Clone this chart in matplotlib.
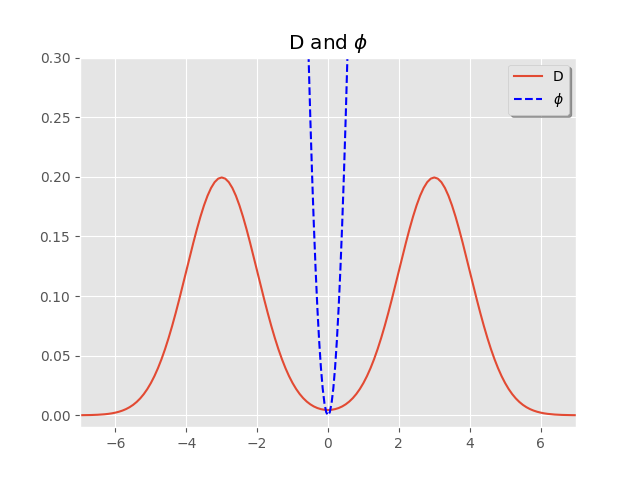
import matplotlib
matplotlib.use("Agg")
import matplotlib.pyplot as plt
import numpy as np

plt.style.use("ggplot")

# D curve at x = 0.0, 0.1, ..., 7.0 (mirror image for x < 0)
d_half = [0.00443, 0.00461, 0.00515, 0.00607, 0.00741, 0.00920, 0.01150, 0.01437,
          0.01788, 0.02209, 0.02706, 0.03285, 0.03950, 0.04705, 0.05547, 0.06476,
          0.07486, 0.08568, 0.09709, 0.10893, 0.12098, 0.13304, 0.14485, 0.15613,
          0.16661, 0.17603, 0.18414, 0.19069, 0.19552, 0.19848, 0.19947, 0.19848,
          0.19552, 0.19069, 0.18414, 0.17603, 0.16661, 0.15613, 0.14485, 0.13304,
          0.12098, 0.10893, 0.09709, 0.08568, 0.07486, 0.06476, 0.05546, 0.04703,
          0.03948, 0.03281, 0.02700, 0.02199, 0.01774, 0.01416, 0.01120, 0.00876,
          0.00679, 0.00521, 0.00396, 0.00298, 0.00222, 0.00163, 0.00119, 0.00086,
          0.00062, 0.00044, 0.00031, 0.00021, 0.00015, 0.00010, 0.00007]
d_y = d_half[::-1] + d_half[1:]
d_x = np.linspace(-7, 7, len(d_y))

# phi curve near the origin
phi_x = [-0.6, -0.55, -0.5, -0.45, -0.4, -0.35, -0.3, -0.25, -0.2, -0.15, -0.1, -0.05,
         0.0, 0.05, 0.1, 0.15, 0.2, 0.25, 0.3, 0.35, 0.4, 0.45, 0.5, 0.55, 0.6]
phi_y = [0.36, 0.3025, 0.25, 0.2025, 0.16, 0.1225, 0.09, 0.0625, 0.04, 0.0225, 0.01,
         0.0025, 0.0, 0.0025, 0.01, 0.0225, 0.04, 0.0625, 0.09, 0.1225, 0.16, 0.2025,
         0.25, 0.3025, 0.36]

fig, ax = plt.subplots(figsize=(6.4, 4.8), dpi=100)
ax.plot(d_x, d_y, label="D")
ax.plot(phi_x, phi_y, "b--", label=r"$\phi$")
ax.set_xlim(-7, 7)
ax.set_ylim(-0.01, 0.3)
ax.set_title(r"D and $\phi$")
ax.legend(loc="upper right", shadow=True)

fig.savefig("out.png")
